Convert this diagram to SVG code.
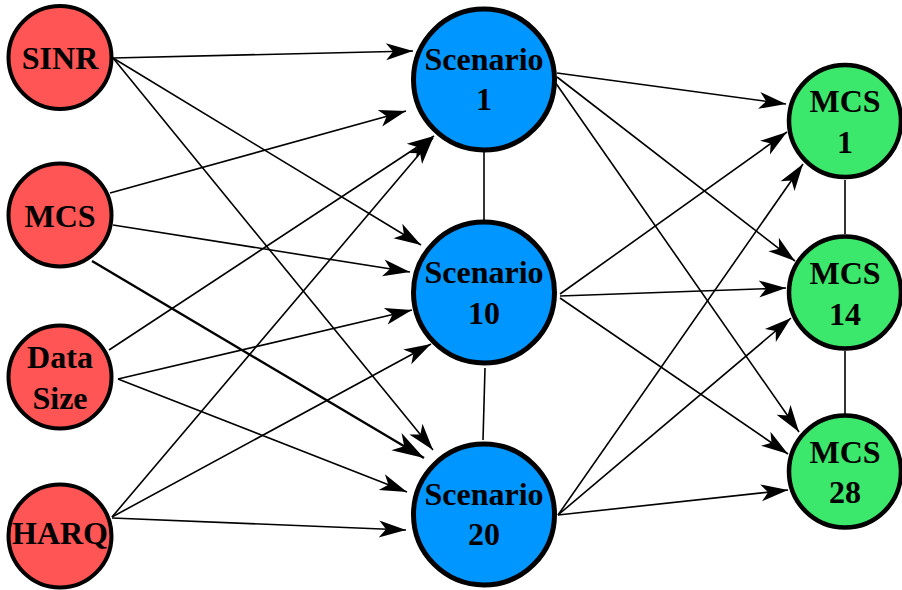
<svg xmlns="http://www.w3.org/2000/svg" width="902" height="590" viewBox="0 0 902 590">
<style>
.lbl{font-family:"Liberation Serif","Times New Roman",serif;font-weight:bold;font-size:32px;text-anchor:middle;fill:#000}
.in{fill:#FF5555;stroke:#000;stroke-width:4}
.sc{fill:#0096FF;stroke:#000;stroke-width:5}
.out{fill:#3BE86B;stroke:#000;stroke-width:4.5}
.e{stroke:#000;stroke-width:1.6;fill:none;marker-end:url(#ah)}
.e2{stroke:#000;stroke-width:2.4;fill:none;marker-end:url(#ah2)}
.u{stroke:#000;stroke-width:1.6;fill:none}
</style>
<defs>
<marker id="ah" viewBox="-28 -9 29 18" refX="0" refY="0" markerWidth="29" markerHeight="18" markerUnits="userSpaceOnUse" orient="auto">
<path d="M0,0 L-27,-8.5 L-20,0 L-27,8.5 Z" fill="#000"/>
</marker>
<marker id="ah2" viewBox="-33 -11 34 22" refX="0" refY="0" markerWidth="34" markerHeight="22" markerUnits="userSpaceOnUse" orient="auto">
<path d="M0,0 L-32,-10 L-23,0 L-32,10 Z" fill="#000"/>
</marker>
</defs>
<g id="connectors">
<line class="e" x1="113" y1="58" x2="413" y2="51"/>
<line class="e" x1="113" y1="58" x2="421" y2="245"/>
<line class="e" x1="113" y1="58" x2="433" y2="450"/>
<line class="e" x1="110" y1="193" x2="406" y2="111"/>
<line class="e" x1="113" y1="225" x2="410" y2="272"/>
<line class="e2" x1="92" y1="261" x2="424" y2="458"/>
<line class="e" x1="109" y1="350" x2="434" y2="136"/>
<line class="e" x1="118" y1="379" x2="412" y2="310"/>
<line class="e" x1="118" y1="379" x2="407" y2="492"/>
<line class="e" x1="112" y1="517" x2="433" y2="138"/>
<line class="e" x1="112" y1="517" x2="431" y2="344"/>
<line class="e" x1="112" y1="518" x2="406" y2="530"/>
<line class="u" x1="484" y1="152" x2="484" y2="220"/>
<line class="u" x1="485" y1="368" x2="483" y2="440"/>
<line class="e" x1="557" y1="73" x2="786" y2="104"/>
<line class="e" x1="557" y1="77" x2="795" y2="261"/>
<line class="e" x1="555" y1="82" x2="799" y2="432"/>
<line class="e" x1="560" y1="294" x2="787" y2="132"/>
<line class="e" x1="560" y1="296" x2="786" y2="288"/>
<line class="e" x1="560" y1="298" x2="788" y2="454"/>
<line class="e" x1="558" y1="515" x2="803" y2="164"/>
<line class="e" x1="558" y1="515" x2="791" y2="318"/>
<line class="e" x1="558" y1="515" x2="788" y2="490"/>
<line class="u" x1="845" y1="180" x2="845" y2="234"/>
<line class="u" x1="845" y1="351" x2="845" y2="414"/>
</g>
<g id="n-sinr"><circle class="in" cx="60" cy="57.5" r="51.5"/><text class="lbl" x="60" y="69">SINR</text></g>
<g id="n-mcs"><circle class="in" cx="60" cy="215" r="51.5"/><text class="lbl" x="60" y="227">MCS</text></g>
<g id="n-data"><circle class="in" cx="60" cy="377" r="51.5"/><text class="lbl" x="60" y="368">Data</text><text class="lbl" x="60" y="409">Size</text></g>
<g id="n-harq"><circle class="in" cx="60" cy="536" r="51.5"/><text class="lbl" x="60" y="544">HARQ</text></g>
<g id="n-s1"><circle class="sc" cx="484" cy="79.5" r="70.5"/><text class="lbl" x="484" y="70">Scenario</text><text class="lbl" x="484" y="110">1</text></g>
<g id="n-s10"><circle class="sc" cx="484" cy="292.5" r="70.5"/><text class="lbl" x="484" y="283">Scenario</text><text class="lbl" x="484" y="324">10</text></g>
<g id="n-s20"><circle class="sc" cx="484" cy="514.5" r="70.5"/><text class="lbl" x="484" y="505">Scenario</text><text class="lbl" x="484" y="545">20</text></g>
<g id="n-m1"><circle class="out" cx="845" cy="121" r="56"/><text class="lbl" x="845" y="112">MCS</text><text class="lbl" x="845" y="153">1</text></g>
<g id="n-m14"><circle class="out" cx="845" cy="292.5" r="56"/><text class="lbl" x="845" y="284">MCS</text><text class="lbl" x="845" y="325">14</text></g>
<g id="n-m28"><circle class="out" cx="845" cy="471.5" r="56"/><text class="lbl" x="845" y="463">MCS</text><text class="lbl" x="845" y="503">28</text></g>
</svg>
